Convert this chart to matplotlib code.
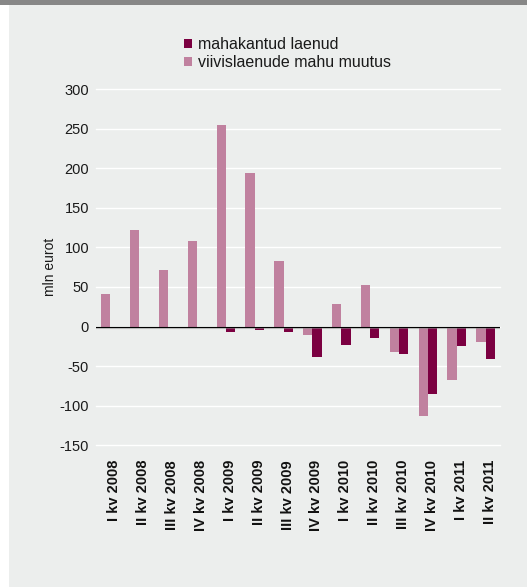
import matplotlib
matplotlib.use("Agg")
import matplotlib.pyplot as plt
import matplotlib.patheffects as pe
import matplotlib.transforms as mtransforms
from matplotlib.patches import Rectangle
import numpy as np

quarters = [
    "I kv 2008", "II kv 2008", "III kv 2008", "IV kv 2008",
    "I kv 2009", "II kv 2009", "III kv 2009", "IV kv 2009",
    "I kv 2010", "II kv 2010", "III kv 2010", "IV kv 2010",
    "I kv 2011", "II kv 2011",
]
# mln eurot
mahakantud = [0, -2, -2, -2, -7, -4, -7, -39, -23, -15, -34, -85, -25, -41]
viivislaenud = [41, 122, 72, 108, 254, 194, 83, -11, 29, 52, -32, -113, -68, -20]
yticks = [-150, -100, -50, 0, 50, 100, 150, 200, 250, 300]

dark = "#7b0041"
light = "#c0819f"
panel = "#eceeed"

plt.rcParams["font.family"] = ["Liberation Sans", "DejaVu Sans"]

W, H = 527, 587
fig = plt.figure(figsize=(W / 100, H / 100), dpi=100, facecolor="white")

# background panel and top band
fig.patches.append(Rectangle((9 / W, 0), 1 - 9 / W, 1, transform=fig.transFigure,
                             facecolor=panel, edgecolor="none", zorder=-10))
fig.patches.append(Rectangle((0, 1 - 5 / H), 1, 5 / H, transform=fig.transFigure,
                             facecolor="#878787", edgecolor="none", zorder=-9))

left, right = 96 / W, 500 / W
top, bottom = 1 - 89 / H, 1 - 445.4 / H
ax = fig.add_axes([left, bottom, right - left, top - bottom])
ax.set_facecolor("none")

x = np.arange(len(quarters))
bw = 0.32
b1 = ax.bar(x + bw / 2, mahakantud, bw, color=dark, label="mahakantud laenud", zorder=4)
b2 = ax.bar(x - bw / 2, viivislaenud, bw, color=light, label="viivislaenude mahu muutus", zorder=3)

ax.set_xlim(-0.5, len(quarters) - 0.5)
ax.set_ylim(-150, 300)
ax.set_yticks(yticks)
ax.set_yticklabels([str(v) for v in yticks], fontsize=10.5, color="#1a1a1a")
ax.tick_params(axis="y", length=0, pad=5)

ax.set_xticks(x)
ax.set_xticklabels(quarters, rotation=90, fontsize=10.5, fontweight="bold", color="#111111")
ax.tick_params(axis="x", length=0, pad=10.5)
shift = mtransforms.ScaledTranslation(4 / 100, 0, fig.dpi_scale_trans)
for lbl in ax.get_xticklabels():
    lbl.set_transform(lbl.get_transform() + shift)

ax.grid(axis="y", color="white", linewidth=1.0, zorder=1)
ax.set_axisbelow(True)
for gl in ax.get_ygridlines():
    gl.set_clip_on(False)
for s in ax.spines.values():
    s.set_visible(False)

# thin zero line with a soft shadow
ax.axhline(0, color="black", linewidth=0.8, zorder=5,
           path_effects=[pe.SimpleLineShadow(offset=(0, -1.0), shadow_color="#999999", alpha=0.5),
                         pe.Normal()])

ax.set_ylabel("mln eurot", fontsize=10, labelpad=2, color="#1a1a1a")

leg = fig.legend(handles=[b1, b2], loc="center left", bbox_to_anchor=(184 / W, 1 - 53.5 / H),
                 frameon=False, fontsize=11.5, handlelength=0.5, handleheight=0.5,
                 handletextpad=0.35, labelspacing=0.2, borderpad=0, borderaxespad=0)
for t in leg.get_texts():
    t.set_color("#1a1a1a")

fig.savefig("out.png", dpi=100, facecolor=fig.get_facecolor())
